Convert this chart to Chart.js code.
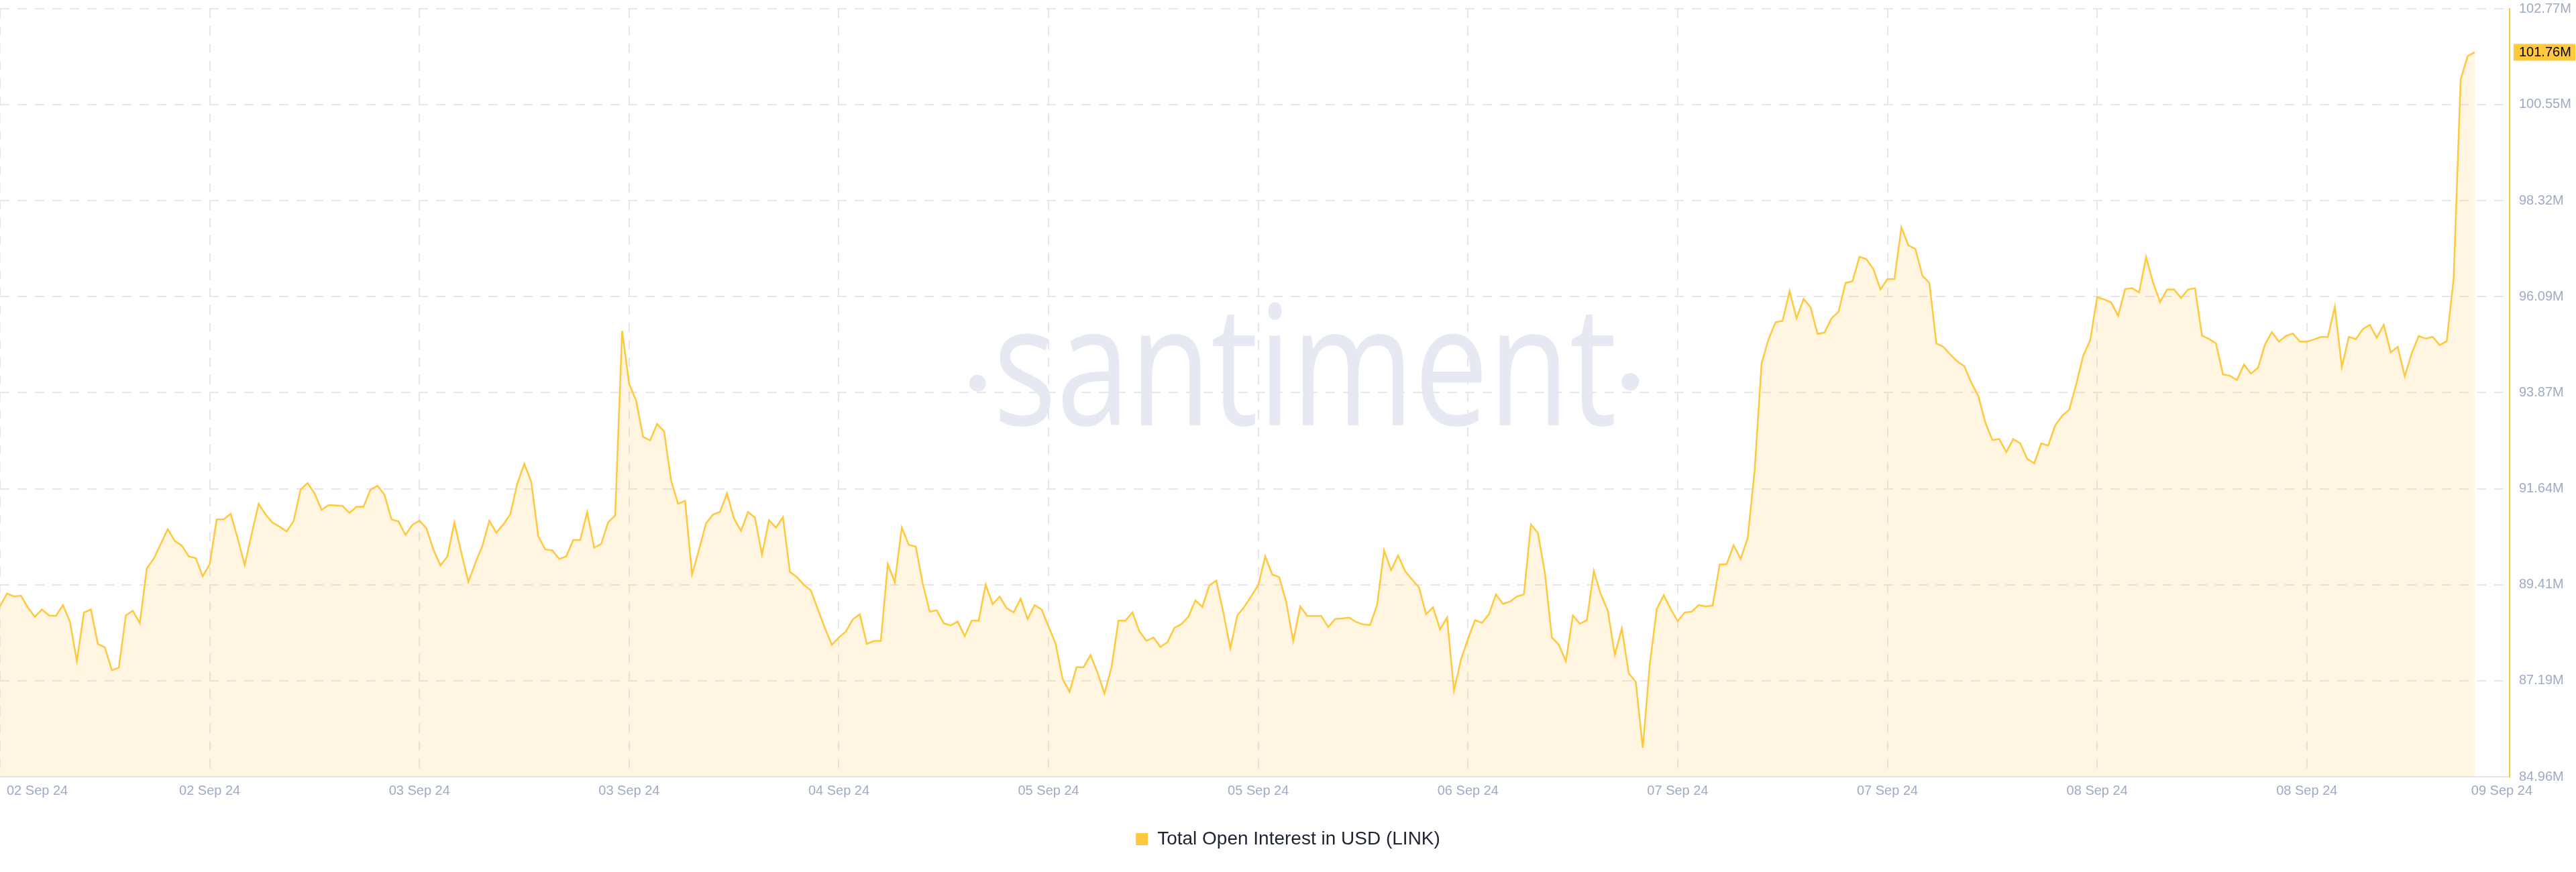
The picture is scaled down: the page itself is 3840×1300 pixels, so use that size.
<!DOCTYPE html>
<html>
<head>
<meta charset="utf-8">
<title>Total Open Interest in USD (LINK)</title>
<script src="https://cdn.jsdelivr.net/npm/chart.js@4.4.1/dist/chart.umd.min.js"></script>
<style>
  html, body { margin: 0; padding: 0; background: #fff; }
  #wrap { width: 3840px; height: 1300px; position: relative; }
</style>
</head>
<body>
<div id="wrap"><canvas id="chart"></canvas></div>
<script>
// ---------- Data ----------
const seriesName = "Total Open Interest in USD (LINK)";

// x tick positions (point index) and their labels
const xTickIdx = [0, 30, 60, 90, 120, 150, 180, 210, 240, 270, 300, 330, 359];
const xLabels = [
  "02 Sep 24", "02 Sep 24", "03 Sep 24", "03 Sep 24", "04 Sep 24", "05 Sep 24", "05 Sep 24",
  "06 Sep 24", "07 Sep 24", "07 Sep 24", "08 Sep 24", "08 Sep 24", "09 Sep 24",
];

// y ticks, in millions USD
const yTicks = [84.96, 87.19, 89.41, 91.64, 93.87, 96.09, 98.32, 100.55, 102.77];

// open interest, millions USD
const oiValues = [
  88.91, 89.21, 89.14, 89.16, 88.88, 88.67, 88.84, 88.70, 88.69, 88.94,
  88.56, 87.64, 88.77, 88.84, 88.04, 87.96, 87.43, 87.49, 88.70, 88.81,
  88.52, 89.79, 90.02, 90.36, 90.70, 90.43, 90.32, 90.07, 90.03, 89.61,
  89.89, 90.93, 90.93, 91.06, 90.49, 89.87, 90.59, 91.29, 91.04, 90.85,
  90.76, 90.65, 90.89, 91.62, 91.77, 91.53, 91.15, 91.26, 91.25, 91.24,
  91.08, 91.22, 91.22, 91.62, 91.71, 91.50, 90.93, 90.88, 90.57, 90.80,
  90.90, 90.72, 90.23, 89.86, 90.07, 90.86, 90.15, 89.48, 89.92, 90.31,
  90.90, 90.62, 90.81, 91.05, 91.76, 92.22, 91.80, 90.54, 90.23, 90.21,
  90.01, 90.07, 90.45, 90.45, 91.10, 90.27, 90.36, 90.86, 91.02, 95.30,
  94.07, 93.68, 92.84, 92.76, 93.14, 92.97, 91.83, 91.29, 91.36, 89.65,
  90.23, 90.84, 91.04, 91.10, 91.53, 90.95, 90.66, 91.10, 90.97, 90.11,
  90.91, 90.74, 90.98, 89.71, 89.59, 89.41, 89.28, 88.84, 88.41, 88.02,
  88.19, 88.33, 88.61, 88.73, 88.04, 88.11, 88.11, 89.89, 89.47, 90.74,
  90.34, 90.30, 89.44, 88.79, 88.82, 88.52, 88.47, 88.56, 88.22, 88.58,
  88.58, 89.42, 88.96, 89.14, 88.87, 88.77, 89.09, 88.62, 88.94, 88.84,
  88.44, 88.05, 87.23, 86.93, 87.50, 87.50, 87.78, 87.38, 86.89, 87.50,
  88.58, 88.58, 88.77, 88.33, 88.11, 88.19, 87.97, 88.08, 88.41, 88.50,
  88.67, 89.05, 88.90, 89.40, 89.51, 88.77, 87.94, 88.70, 88.90, 89.15,
  89.41, 90.07, 89.65, 89.59, 89.01, 88.11, 88.91, 88.69, 88.69, 88.69,
  88.43, 88.62, 88.63, 88.65, 88.55, 88.49, 88.48, 88.95, 90.21, 89.75,
  90.09, 89.73, 89.53, 89.35, 88.73, 88.89, 88.38, 88.65, 86.96, 87.68,
  88.16, 88.59, 88.53, 88.73, 89.19, 88.97, 89.02, 89.14, 89.19, 90.81,
  90.61, 89.69, 88.19, 88.02, 87.64, 88.70, 88.51, 88.59, 89.73, 89.19,
  88.81, 87.79, 88.40, 87.36, 87.16, 85.63, 87.56, 88.85, 89.17, 88.85,
  88.57, 88.77, 88.79, 88.94, 88.91, 88.93, 89.88, 89.89, 90.33, 90.01,
  90.49, 92.06, 94.55, 95.11, 95.50, 95.53, 96.22, 95.59, 96.04, 95.85,
  95.23, 95.26, 95.59, 95.74, 96.41, 96.45, 97.02, 96.96, 96.73, 96.26,
  96.50, 96.50, 97.70, 97.28, 97.20, 96.58, 96.41, 95.01, 94.93, 94.75,
  94.59, 94.48, 94.10, 93.79, 93.18, 92.77, 92.79, 92.49, 92.79, 92.69,
  92.33, 92.23, 92.69, 92.64, 93.11, 93.33, 93.47, 94.06, 94.72, 95.08,
  96.08, 96.03, 95.96, 95.65, 96.27, 96.29, 96.19, 97.01, 96.42, 95.97,
  96.26, 96.26, 96.06, 96.26, 96.29, 95.19, 95.11, 95.01, 94.29, 94.26,
  94.16, 94.52, 94.31, 94.44, 94.98, 95.27, 95.05, 95.18, 95.24, 95.05,
  95.05, 95.10, 95.16, 95.16, 95.86, 94.46, 95.16, 95.11, 95.34, 95.44,
  95.14, 95.44, 94.80, 94.93, 94.25, 94.78, 95.18, 95.12, 95.16, 94.97,
  95.06, 96.52, 101.13, 101.67, 101.76,
];

// ---------- Styles ----------
const FONT = '"Liberation Sans", Arial, Helvetica, sans-serif';
const LINE = "#ffc83d";
const FILL = "rgba(255, 193, 68, 0.16)";
const GRID = "#e4e7f0";
const TICK = "#9faac4";

// big faded logo behind the line
const watermark = {
  id: "watermark",
  beforeDatasetsDraw(chart) {
    const { ctx, chartArea: a } = chart;
    const cx = a.left + a.width * 0.52;
    const base = a.top + a.height * 0.5426;
    ctx.save();
    ctx.fillStyle = "#e6e9f2";
    ctx.font = '400 249px "Open Sans", sans-serif';
    const m = ctx.measureText("santiment");
    const ink = m.actualBoundingBoxLeft + m.actualBoundingBoxRight;
    const sx = 916 / ink;
    ctx.translate(cx, base);
    ctx.save();
    ctx.scale(sx, 1);
    ctx.textAlign = "center";
    ctx.textBaseline = "alphabetic";
    ctx.fillText("santiment", 0, 0);
    ctx.restore();
    ctx.beginPath();
    ctx.arc(-488, -63, 12.5, 0, Math.PI * 2);
    ctx.arc(485, -65, 13, 0, Math.PI * 2);
    ctx.fill();
    ctx.restore();
  },
};

// date labels under the axis, first/last kept inside
const xLabelPlugin = {
  id: "xLabels",
  afterDraw(chart) {
    const { ctx, chartArea: a } = chart;
    const xs = chart.scales.x;
    ctx.save();
    ctx.font = "20px " + FONT;
    ctx.fillStyle = TICK;
    ctx.textBaseline = "middle";
    ctx.textAlign = "left";
    xs.ticks.forEach((t, i) => {
      const label = xLabels[i];
      if (!label) return;
      const w = ctx.measureText(label).width;
      let left = xs.getPixelForValue(t.value) - w / 2;
      left = Math.max(a.left + 10, Math.min(left, a.right + 34 - w));
      ctx.fillText(label, left, a.bottom + 21);
    });
    ctx.restore();
  },
};

// highlighted last value on the right axis
const lastValue = {
  id: "lastValue",
  afterDraw(chart) {
    const { ctx, chartArea: a } = chart;
    const v = oiValues[oiValues.length - 1];
    const py = chart.scales.y.getPixelForValue(v);
    ctx.save();
    ctx.fillStyle = LINE;
    ctx.fillRect(a.right + 6, py - 12.5, 92, 25);
    ctx.fillStyle = "#000";
    ctx.font = "20px " + FONT;
    ctx.textBaseline = "middle";
    ctx.fillText(v.toFixed(2) + "M", a.right + 14, py + 1);
    ctx.restore();
  },
};

new Chart(document.getElementById("chart"), {
  type: "line",
  data: {
    datasets: [{
      label: seriesName,
      data: oiValues.map((v, i) => ({ x: i, y: v })),
      borderColor: LINE,
      borderWidth: 2.5,
      backgroundColor: FILL,
      fill: "start",
      pointRadius: 0,
      tension: 0,
    }],
  },
  options: {
    responsive: true,
    maintainAspectRatio: false,
    devicePixelRatio: 1,
    animation: false,
    layout: { padding: { top: 13, bottom: 25, left: 0, right: 0 } },
    plugins: {
      tooltip: { enabled: false },
      legend: {
        position: "bottom",
        labels: {
          boxWidth: 18,
          boxHeight: 18,
          padding: 10,
          color: "#1e2235",
          font: { size: 28, family: FONT },
          generateLabels: (chart) =>
            Chart.defaults.plugins.legend.labels.generateLabels(chart).map((l) => ({
              ...l, fillStyle: LINE, strokeStyle: LINE, lineWidth: 0,
            })),
        },
      },
    },
    scales: {
      x: {
        type: "linear",
        min: 0,
        max: xTickIdx[xTickIdx.length - 1],
        afterBuildTicks: (s) => { s.ticks = xTickIdx.map((v) => ({ value: v })); },
        afterFit: (s) => { s.height = 69; },
        grid: { color: GRID, lineWidth: 2, drawTicks: false },
        border: { color: GRID, width: 2, dash: [14, 12] },
        ticks: { display: false },
      },
      y: {
        position: "right",
        min: yTicks[0],
        max: yTicks[yTicks.length - 1],
        afterBuildTicks: (s) => { s.ticks = yTicks.map((v) => ({ value: v })); },
        afterFit: (s) => { s.width = 99; s.paddingTop = 0; s.paddingBottom = 0; },
        grid: { color: GRID, lineWidth: 2, drawTicks: false },
        border: { color: LINE, width: 2, dash: [14, 12] },
        ticks: {
          color: TICK,
          padding: 14,
          font: { size: 20, family: FONT },
          callback: (v) => Number(v).toFixed(2) + "M",
        },
      },
    },
  },
  plugins: [watermark, xLabelPlugin, lastValue],
});
</script>
</body>
</html>
